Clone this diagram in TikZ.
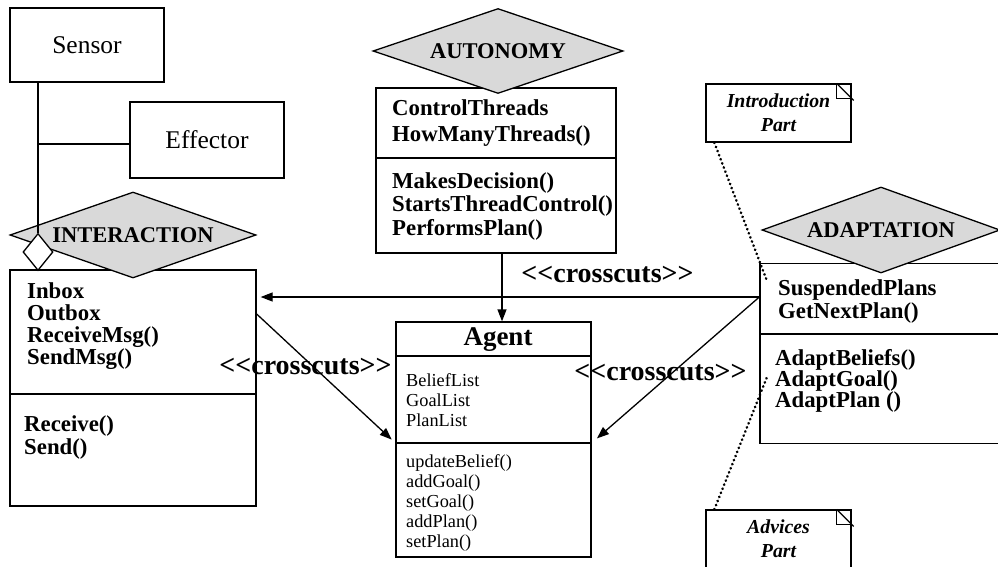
\documentclass[tikz,border=0pt]{standalone}
\usepackage{fontspec}
\setmainfont{Liberation Serif}
\usetikzlibrary{arrows.meta,positioning,shapes.geometric}

\begin{document}
\begin{tikzpicture}[x=1pt,y=-1pt,
box/.style={draw,line width=1.3pt,inner sep=0pt},
diam/.style={draw,diamond,aspect=2.9,fill=gray!30,line width=1.3pt,inner sep=0pt,font=\bfseries\fontsize{22.5}{24}\selectfont},
mem/.style={anchor=west,align=left,inner sep=0pt,font=\bfseries\fontsize{22.8}{#1}\selectfont},
plain/.style={anchor=west,align=left,inner sep=0pt,font=\fontsize{18.3}{20}\selectfont},
lbl/.style={inner sep=0pt,font=\bfseries\fontsize{28}{30}\selectfont},
note/.style={draw,line width=1.3pt,minimum width=145pt,minimum height=58pt,inner sep=0pt,align=center,font=\bfseries\itshape\fontsize{19.8}{24}\selectfont},
arr/.style={-{Triangle[length=12pt,width=9pt]},line width=1.3pt},
dots/.style={line width=2.6pt,line cap=round,dash pattern=on 0.4pt off 4pt}]
\useasboundingbox (0,0) rectangle (998,567);

% sensor and effector
\node[box,minimum width=154pt,minimum height=74pt,font=\fontsize{25.5}{28}\selectfont] (sensor) at (87,45) {Sensor};
\node[box,minimum width=154pt,minimum height=76pt,font=\fontsize{25.5}{28}\selectfont] (effector) at (207,140) {Effector};

% interaction aspect
\node[box,minimum width=246pt,minimum height=236pt] (inter) at (133,388) {};
\draw[line width=1.3pt] (inter.west |- 0,394) -- (inter.east |- 0,394);
\node[diam,minimum width=246pt,minimum height=86pt] (interD) at (133,235) {INTERACTION};
\node[mem=22] (interA) at (27,326) {Inbox\\Outbox\\ReceiveMsg()\\SendMsg()};
\node[mem=23] (interO) at (24,437.5) {Receive()\\Send()};
\node[draw,diamond,aspect=0.8,fill=white,line width=1.3pt,minimum width=30pt,minimum height=37pt,inner sep=0pt] (agg) at (38,252) {};
\draw[line width=1.3pt] (agg.north) -- (agg.north |- sensor.south);
\draw[line width=1.3pt] ([yshift=-4pt]effector.west) -- ([yshift=-4pt]effector.west -| agg.north);

% autonomy aspect
\node[box,minimum width=240pt,minimum height=165pt] (auto) at (496,170.5) {};
\draw[line width=1.3pt] (auto.west |- 0,158) -- (auto.east |- 0,158);
\node[diam,minimum width=250pt,minimum height=85pt] (autoD) at (498,51) {AUTONOMY};
\node[mem=26] (autoA) at (392,123) {ControlThreads\\HowManyThreads()};
\node[mem=23.5] (autoO) at (392,206.5) {MakesDecision()\\StartsThreadControl()\\PerformsPlan()};

% agent class
\node[box,minimum width=195pt,minimum height=235pt] (agent) at (493.5,439.5) {};
\draw[line width=1.3pt] (agent.west |- 0,356) -- (agent.east |- 0,356);
\draw[line width=1.3pt] (agent.west |- 0,443) -- (agent.east |- 0,443);
\node[lbl,font=\bfseries\fontsize{27}{30}\selectfont] (agentT) at (498,340) {Agent};
\node[plain] (agentA) at (406,400) {BeliefList\\GoalList\\PlanList};
\node[plain] (agentO) at (406,503) {updateBelief()\\addGoal()\\setGoal()\\addPlan()\\setPlan()};

% adaptation aspect
\node[box,minimum width=240pt,minimum height=180pt] (adapt) at (880,353.5) {};
\draw[line width=1.3pt] (adapt.west |- 0,334) -- (adapt.east |- 0,334);
\node[diam,minimum width=238pt,minimum height=86pt] (adaptD) at (881,230) {ADAPTATION};
\node[mem=23] (adaptA) at (778,301.5) {SuspendedPlans\\GetNextPlan()};
\node[mem=21] (adaptO) at (775,381) {AdaptBeliefs()\\AdaptGoal()\\AdaptPlan ()};

% notes
\node[note] (intro) at (778.5,113) {Introduction\\Part};
\node[note] (advice) at (778.5,539) {Advices\\Part};
\foreach \n in {intro,advice}{
  \draw[line width=1.3pt] ([xshift=-15pt]\n.north east) rectangle ([yshift=-15pt]\n.north east);
  \draw[line width=1.3pt] ([xshift=-15pt]\n.north east) -- ([xshift=2pt,yshift=-17pt]\n.north east);
}
\coordinate (introEnd) at (767,281);
\coordinate (adviceEnd) at (767,377);
\draw[dots] ([xshift=9pt]intro.south west) -- (introEnd);
\draw[dots] ([xshift=9pt]advice.north west) -- (adviceEnd);

% crosscuts
\coordinate (hub) at (adapt.west |- 0,297);
\draw[arr] (auto.south -| 502,0) -- (agent.north -| 502,0);
\draw[arr,shorten >=4pt] (hub) -- (hub -| inter.east);
\draw[arr,shorten >=7pt] (hub) -- (agent.east |- 0,443);
\draw[arr,shorten >=5pt] (inter.east |- 0,314) -- (agent.west |- 0,443);
\node[lbl] (ccTop) at (607.5,275) {<\kern0pt<crosscuts>\kern0pt>};
\node[lbl] (ccLeft) at (305.5,367) {<\kern0pt<crosscuts>\kern0pt>};
\node[lbl] (ccRight) at (660.5,373) {<\kern0pt<crosscuts>\kern0pt>};
\end{tikzpicture}
\end{document}
